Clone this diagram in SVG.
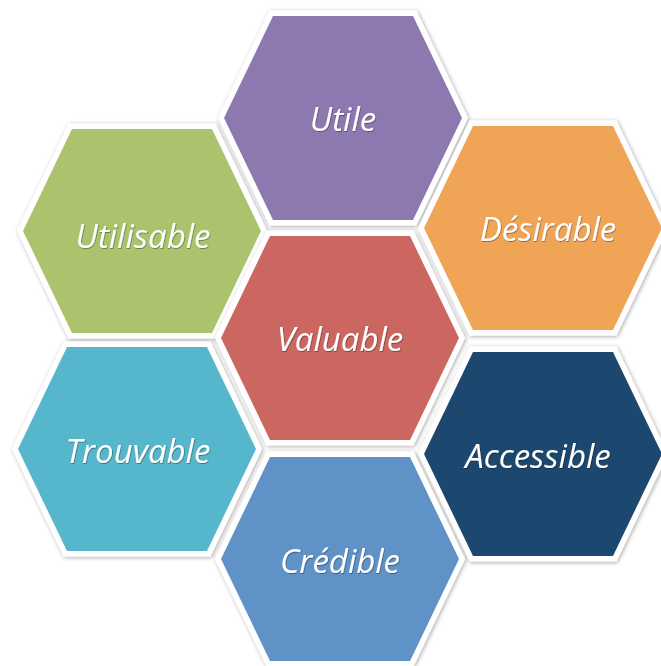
<svg xmlns="http://www.w3.org/2000/svg" width="661" height="666" viewBox="0 0 661 666">
<defs>
<filter id="sh" x="-10%" y="-10%" width="120%" height="120%">
<feDropShadow dx="1" dy="1" stdDeviation="2" flood-color="#000" flood-opacity="0.35"/>
</filter>
<filter id="tsh" x="-10%" y="-20%" width="120%" height="140%">
<feDropShadow dx="0.6" dy="0.8" stdDeviation="0.6" flood-color="#000" flood-opacity="0.45"/>
</filter>
</defs>
<style>
.hex{stroke:#fff;stroke-width:11;stroke-linejoin:miter;paint-order:stroke;filter:url(#sh)}
.lbl{font-family:"Open Sans","Liberation Sans",sans-serif;font-style:italic;font-size:33px;fill:#fff;text-anchor:middle;filter:url(#tsh)}
</style>
<rect width="661" height="666" fill="#fff"/>
<g id="utile">
<polygon class="hex" fill="#8D79AF" points="224,118 273,16 413,16 462,118 413,220 273,220"/>
<text class="lbl" x="343" y="131">Utile</text>
</g>
<g id="utilisable">
<polygon class="hex" fill="#AAC36C" points="23,231 72,129 212,129 261,231 212,333 72,333"/>
<text class="lbl" x="143" y="248">Utilisable</text>
</g>
<g id="desirable">
<polygon class="hex" fill="#F0A457" points="424,228 473,126 613,126 662,228 613,330 473,330"/>
<text class="lbl" x="548" y="241">Désirable</text>
</g>
<g id="valuable">
<polygon class="hex" fill="#CB6660" points="221,338 270,236 410,236 459,338 410,440 270,440"/>
<text class="lbl" x="340" y="351">Valuable</text>
</g>
<g id="trouvable">
<polygon class="hex" fill="#56B6CC" points="18,449 67,347 207,347 256,449 207,551 67,551"/>
<text class="lbl" x="138" y="463">Trouvable</text>
</g>
<g id="accessible">
<polygon class="hex" fill="#1E476E" points="424,454 473,352 613,352 662,454 613,556 473,556"/>
<text class="lbl" x="538" y="468">Accessible</text>
</g>
<g id="credible">
<polygon class="hex" fill="#5F92C6" points="221,559 270,457 410,457 459,559 410,661 270,661"/>
<text class="lbl" x="340" y="573">Crédible</text>
</g>
<g id="connectors"/>
</svg>
